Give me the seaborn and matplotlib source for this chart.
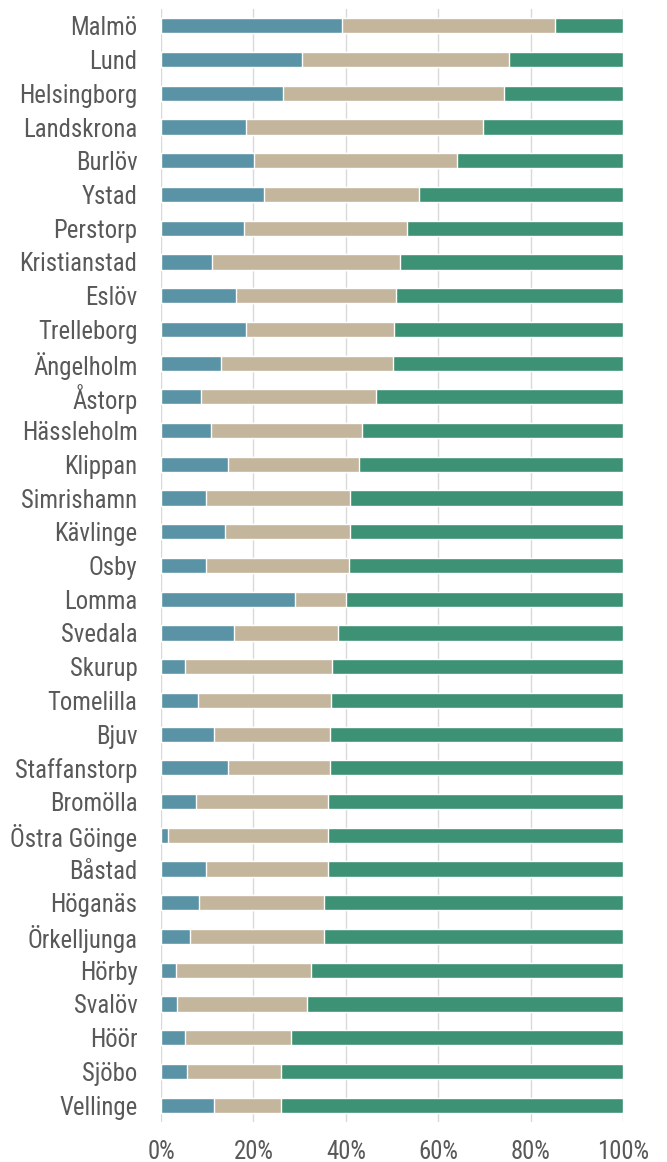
import matplotlib
matplotlib.use("Agg")
import matplotlib.pyplot as plt
from matplotlib import font_manager
import pandas as pd
import seaborn as sns

# municipalities, top to bottom
kommuner = [
    "Malmö", "Lund", "Helsingborg", "Landskrona", "Burlöv", "Ystad", "Perstorp",
    "Kristianstad", "Eslöv", "Trelleborg", "Ängelholm", "Åstorp", "Hässleholm",
    "Klippan", "Simrishamn", "Kävlinge", "Osby", "Lomma", "Svedala", "Skurup",
    "Tomelilla", "Bjuv", "Staffanstorp", "Bromölla", "Östra Göinge", "Båstad",
    "Höganäs", "Örkelljunga", "Hörby", "Svalöv", "Höör", "Sjöbo", "Vellinge",
]

# shares in percent (blue, beige, green)
andel_bla = [39.1, 30.5, 26.3, 18.5, 20.1, 22.2, 18.0, 11.1, 16.3, 18.4, 12.9,
             8.6, 10.8, 14.6, 9.8, 13.8, 9.8, 29.1, 15.8, 5.2, 8.0, 11.4, 14.6,
             7.6, 1.5, 9.8, 8.3, 6.3, 3.2, 3.5, 5.2, 5.6, 11.4]
andel_beige = [46.2, 44.8, 47.9, 51.1, 44.0, 33.7, 35.3, 40.7, 34.5, 32.0, 37.3,
               38.0, 32.7, 28.2, 31.1, 27.1, 30.9, 10.9, 22.5, 31.9, 28.7, 25.1,
               21.9, 28.6, 34.7, 26.4, 27.0, 29.0, 29.2, 28.2, 23.0, 20.4, 14.5]
andel_gron = [14.7, 24.7, 25.8, 30.4, 35.9, 44.1, 46.7, 48.2, 49.2, 49.6, 49.8,
              53.4, 56.5, 57.2, 59.1, 59.1, 59.3, 60.0, 61.7, 62.9, 63.3, 63.5,
              63.5, 63.8, 63.8, 63.8, 64.7, 64.7, 67.6, 68.3, 71.8, 74.0, 74.1]

ticks = [0, 20, 40, 60, 80, 100]
tick_labels = ["0%", "20%", "40%", "60%", "80%", "100%"]

BLUE = "#5b93a6"
BEIGE = "#c4b59d"
GREEN = "#3d9174"
TEXT = "#595959"

sns.set_style("white")


def pick_font():
    # look for a narrow / condensed regular face, the reference uses one
    prefs = ["Liberation Sans Narrow", "Roboto Condensed", "Open Sans Condensed",
             "Noto Sans", "DejaVu Sans", "Lato", "Open Sans", "Roboto", "Inter"]
    found = []
    for f in font_manager.fontManager.ttflist:
        name = f.name
        fn = f.fname.lower()
        cond = ("condensed" in str(f.stretch) or "narrow" in name.lower()
                or "condensed" in name.lower() or "condensed" in fn)
        if not cond or "semi" in fn or "extra" in fn or "ultra" in fn:
            continue
        if f.style != "normal" or f.weight not in (400, "normal", "regular"):
            continue
        rank = len(prefs)
        for i, p in enumerate(prefs):
            if name.startswith(p):
                rank = i
                break
        found.append((rank, f.fname))
    if found:
        found.sort()
        return font_manager.FontProperties(fname=found[0][1])
    return font_manager.FontProperties(family="DejaVu Sans")


fp = pick_font()

df = pd.DataFrame({"kommun": kommuner, "bla": andel_bla,
                   "beige": andel_beige, "gron": andel_gron})
df["s1"] = df["bla"]
df["s2"] = df["bla"] + df["beige"]
df["s3"] = df["s2"] + df["gron"]

fig = plt.figure(figsize=(6.67, 11.62), dpi=100)
ax = fig.add_axes([0.2414, 0.0344, 0.6927, 0.9579])

# size the labels so the widest one is as wide as in the reference
renderer = fig.canvas.get_renderer()
probe = fig.text(0, 0, "Östra Göinge", fontproperties=fp, fontsize=17)
w = probe.get_window_extent(renderer).width
probe.remove()
size = min(19.0, 17 * 127.0 / w)

for col, c in [("s3", GREEN), ("s2", BEIGE), ("s1", BLUE)]:
    sns.barplot(data=df, x=col, y="kommun", color=c, width=0.45,
                orient="h", saturation=1, ax=ax, zorder=3)

ax.set_xlim(0, 100)
ax.set_xticks(ticks)
ax.set_xticklabels(tick_labels)
ax.set_xlabel("")
ax.set_ylabel("")
ax.xaxis.grid(True, color="#d9d9d9", linewidth=1, zorder=0)
ax.set_axisbelow(True)
sns.despine(ax=ax, left=True, bottom=True)
ax.tick_params(axis="y", length=0, pad=17, labelcolor=TEXT)
ax.tick_params(axis="x", length=0, pad=13, labelcolor=TEXT)
for lab in ax.get_yticklabels() + ax.get_xticklabels():
    lab.set_fontproperties(fp)
    lab.set_fontsize(size)

fig.savefig("out.png", dpi=100)
